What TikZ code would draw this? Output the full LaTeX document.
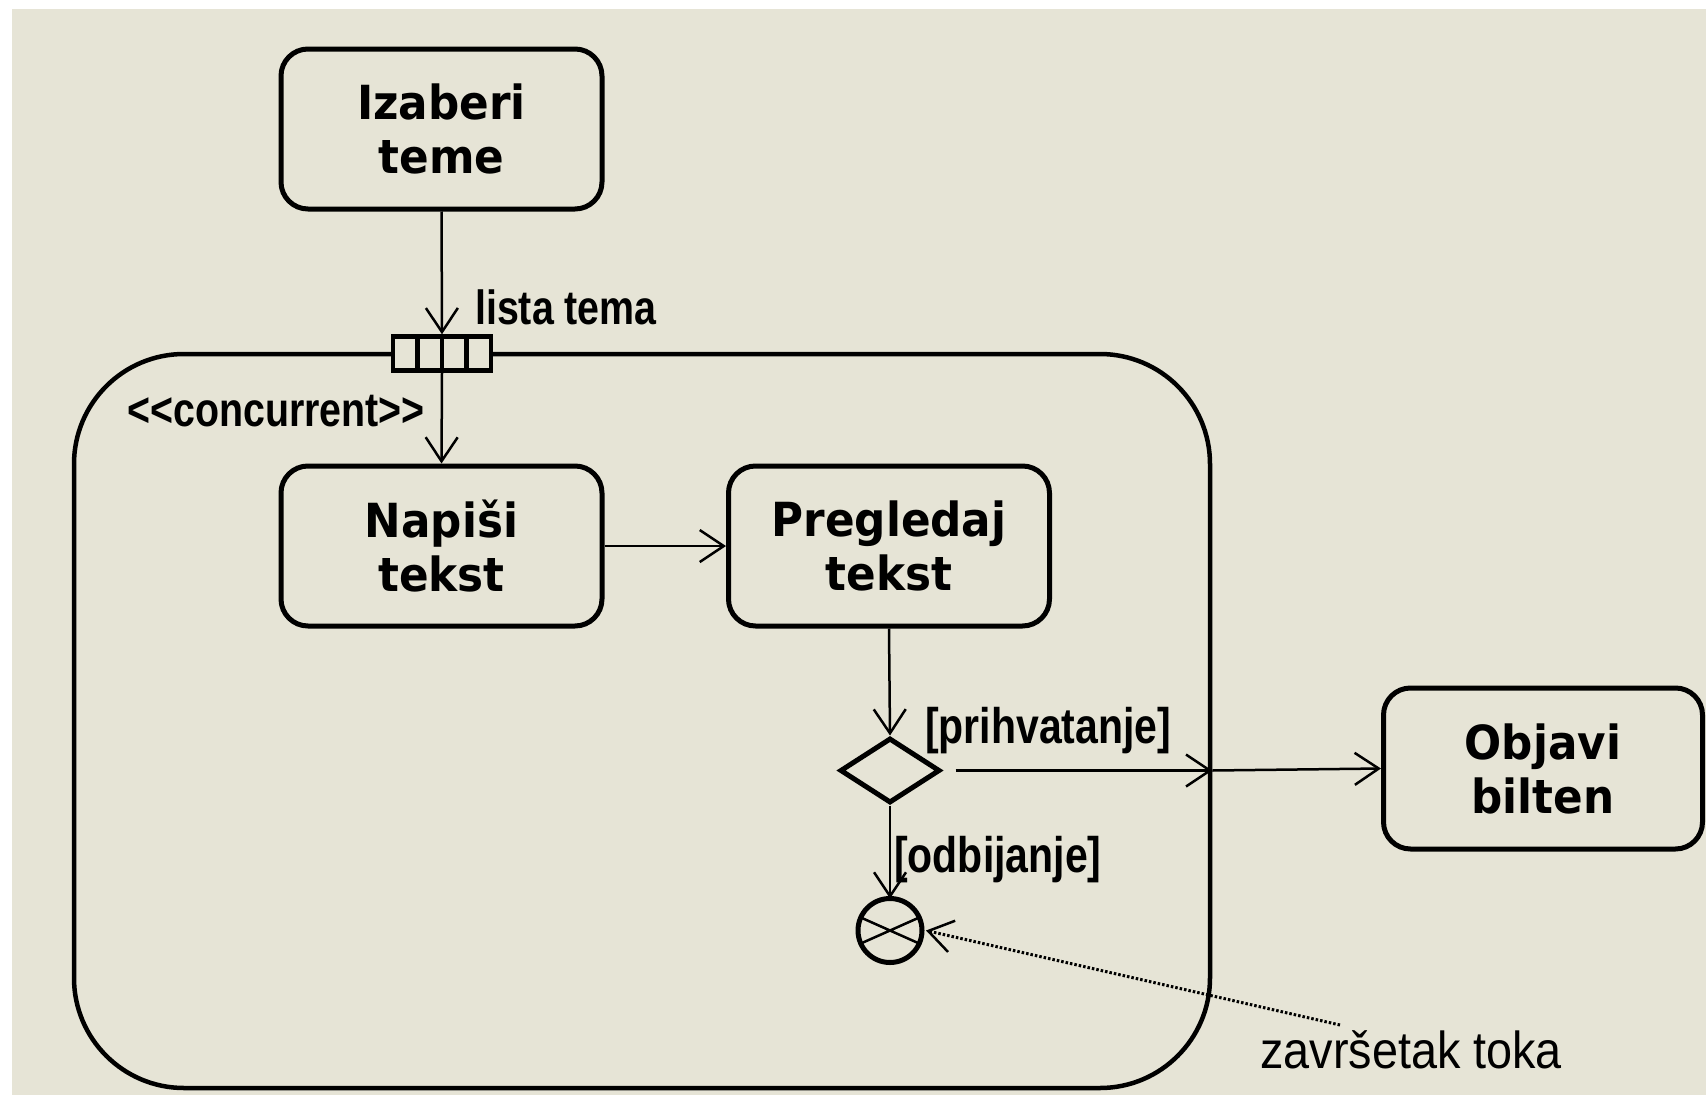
\documentclass[tikz,border=0pt]{standalone}
\usepackage{fontspec}
\usetikzlibrary{arrows.meta,shapes.geometric}
\newfontfamily\boxfont[FakeStretch=0.93]{DejaVu Sans Bold}
\newfontfamily\labfont[FakeStretch=0.82]{Liberation Sans Bold}
\newfontfamily\notefont[FakeStretch=0.9]{Liberation Sans}
\definecolor{bgc}{RGB}{230,228,214}
\begin{document}
\begin{tikzpicture}[x=1pt,y=-1pt,
  act/.style={draw, line width=5pt, rounded corners=27pt, minimum width=321pt, minimum height=160pt,
    align=center, font=\boxfont\fontsize{47}{54}\selectfont, inner sep=0pt},
  arr/.style={line width=2.5pt, -{Straight Barb[length=24pt,width=32pt,line width=2.5pt]}},
  lab/.style={anchor=west, inner sep=0pt, font=\labfont\fontsize{48}{56}\selectfont},
  guard/.style={lab, font=\labfont\fontsize{50}{56}\selectfont},
  note/.style={anchor=west, inner sep=0pt, font=\notefont\fontsize{52}{60}\selectfont}]
\useasboundingbox (0,0) rectangle (1706,1095);
\fill[white] (0,0) rectangle (1706,1095);
\fill[bgc] (12,9) rectangle (1706,1095);
% concurrent region
\node[draw, line width=4.5pt, rounded corners=110pt, minimum width=1136pt, minimum height=734pt, inner sep=0pt] (region) at (642,721) {};
% activities
\node[act] (izaberi) at (441.5,129) {Izaberi\\teme};
\node[act] (napisi) at (441.5,546) {Napiši\\tekst};
\node[act] (pregledaj) at (889,546) {Pregledaj\\tekst};
\node[act, minimum width=319pt, minimum height=161pt] (objavi) at (1543,768.5) {Objavi\\bilten};
% pin
\node[draw, fill=bgc, line width=4.5pt, minimum width=98pt, minimum height=34pt, inner sep=0pt] (pin) at (442,353.5) {};
\foreach \dx in {-24.5,0,24.5} \draw[line width=4.5pt] ([xshift=\dx pt]pin.north) -- ([xshift=\dx pt]pin.south);
% decision and flow final
\node[draw, diamond, line width=5pt, minimum width=100pt, minimum height=65pt, inner sep=0pt, aspect=1.55] (dia) at (890,770.5) {};
\node[draw, circle, line width=5pt, minimum size=64pt, inner sep=0pt, outer sep=0pt] (fin) at (890,930.5) {};
\draw[line width=2.5pt] (fin.156) -- (fin.-24) (fin.24) -- (fin.204);
\coordinate (rx) at (region.east |- dia.center);
% texts
\node[lab] (lista) at (475,307) {lista tema};
\node[lab] (conc) at (127,411) {<<concurrent>>};
\node[guard] (prih) at (925,731) {[prihvatanje]};
\node[guard] (odb) at (894,860) {[odbijanje]};
\node[note] (zav) at (1260,1050) {završetak toka};
\coordinate (zavend) at (1340,1025);
% connectors
\draw[arr] (izaberi.south) -- (pin.north);
\draw[arr] (pin.south) -- (napisi.north);
\draw[arr] (napisi.east) -- (pregledaj.west);
\draw[arr] (pregledaj.south) -- (dia.north);
\draw[arr] ([xshift=13pt]dia.east) -- (rx);
\draw[arr] (rx) -- (objavi.west);
\draw[arr] (dia.south) -- (fin.north);
\draw[line width=3pt, dash pattern=on 2.5pt off 2pt, -{Straight Barb[length=24pt,width=32pt,line width=2.5pt]}] (zavend) -- ([xshift=4pt]fin.east);
\end{tikzpicture}
\end{document}
